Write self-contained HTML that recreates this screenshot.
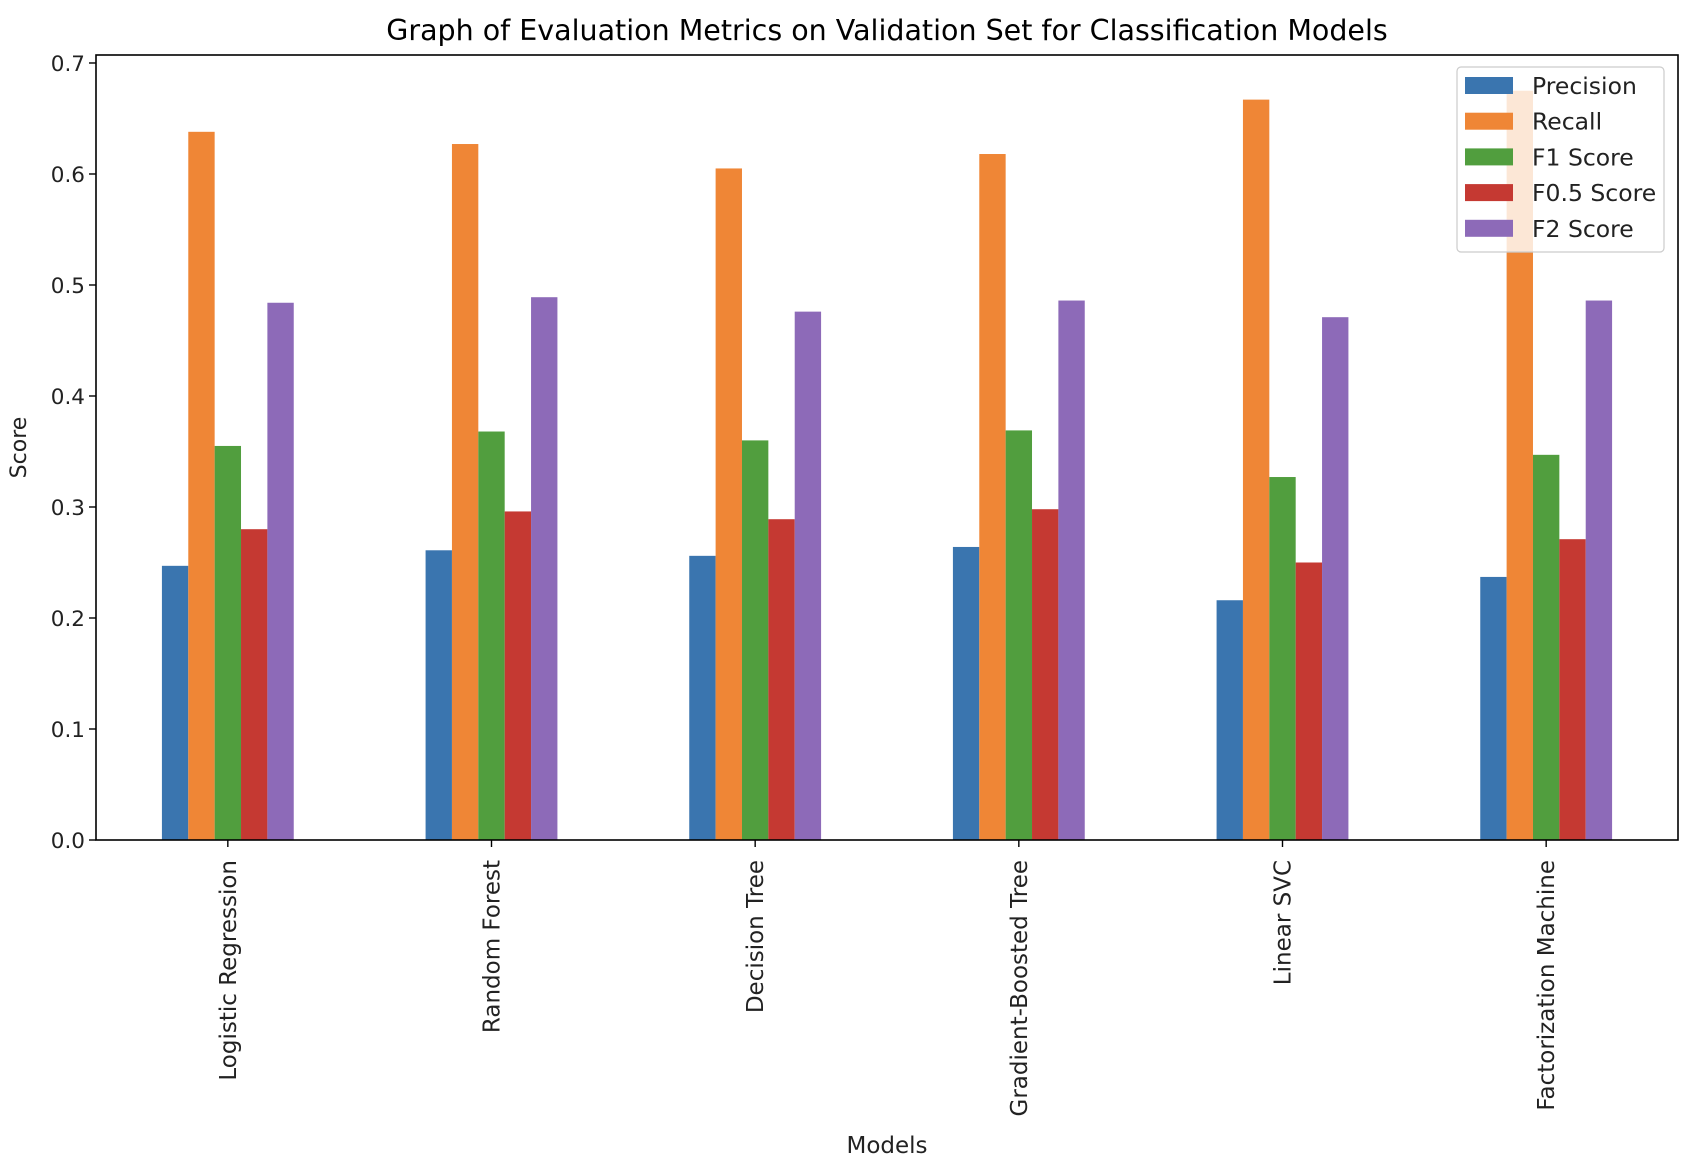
<!DOCTYPE html>
<html><head><meta charset="utf-8"><style>
html,body{margin:0;padding:0;background:#fff;}
svg{display:block;font-family:"DejaVu Sans","Liberation Sans",sans-serif;}
</style></head><body>
<svg id="chart" width="1696" height="1166" viewBox="0 0 1696 1166" xmlns="http://www.w3.org/2000/svg"></svg>
<script>
const categories = ["Logistic Regression","Random Forest","Decision Tree","Gradient-Boosted Tree","Linear SVC","Factorization Machine"];
const seriesNames = ["Precision","Recall","F1 Score","F0.5 Score","F2 Score"];
const precision = [0.247,0.261,0.256,0.264,0.216,0.237];
const recall = [0.638,0.627,0.605,0.618,0.667,0.675];
const f1 = [0.355,0.368,0.360,0.369,0.327,0.347];
const f05 = [0.280,0.296,0.289,0.298,0.250,0.271];
const f2 = [0.484,0.489,0.476,0.486,0.471,0.486];
const yTicks = [0.0,0.1,0.2,0.3,0.4,0.5,0.6,0.7];
const yTickLabels = ["0.0","0.1","0.2","0.3","0.4","0.5","0.6","0.7"];

const series = [precision,recall,f1,f05,f2];
const colors = ["#3a75af","#ef8636","#519e3e","#c53932","#8d6ab8"];
const NS="http://www.w3.org/2000/svg";
const svg=document.getElementById('chart');
const L=96,R=1678,T=55,B=840,yMax=0.7072;
const y=v=>B-(v/yMax)*(B-T);
const x=i=>L+(i+0.5)*(R-L)/categories.length;
const step=(R-L)/categories.length, bw=step*0.5/series.length;
function mk(tag,attrs,parent){const e=document.createElementNS(NS,tag);for(const k in attrs)e.setAttribute(k,attrs[k]);(parent||svg).appendChild(e);return e;}

const title=mk('text',{x:(L+R)/2,y:40,'text-anchor':'middle','font-size':'28.5','fill':'#000'});


title.textContent="Graph of Evaluation Metrics on Validation Set for Classification Models";

const bars=mk('g',{});


series.forEach((s,si)=>{
  s.forEach((v,ci)=>{
    const bx=x(ci)-step*0.25+si*bw;
    const r=mk('rect',{x:bx,y:y(v),width:bw,height:B-y(v),fill:colors[si]},bars);
    
    
  });
});

const axes=mk('g',{});


mk('rect',{x:L,y:T,width:R-L,height:B-T,fill:'none',stroke:'#000','stroke-width':'1.6'},axes);

yTicks.forEach((t,i)=>{
  mk('line',{x1:L-7,x2:L,y1:y(t),y2:y(t),stroke:'#000','stroke-width':'1.4'},axes);
  const tl=mk('text',{x:L-11,y:y(t)+8,'text-anchor':'end','font-size':'21.5',fill:'#222'},axes);
  
  
  tl.textContent=yTickLabels[i];
});
categories.forEach((c,i)=>{
  mk('line',{x1:x(i),x2:x(i),y1:B,y2:B+7,stroke:'#000','stroke-width':'1.4'},axes);
  const tl=mk('text',{x:0,y:0,'text-anchor':'end','font-size':'23',fill:'#222',transform:`translate(${x(i)+8},${B+20}) rotate(-90)`},axes);
  
  
  tl.textContent=c;
});
const yt=mk('text',{x:0,y:0,'text-anchor':'middle','font-size':'22',fill:'#222',transform:`translate(26,${(T+B)/2}) rotate(-90)`});


yt.textContent="Score";
const xt=mk('text',{x:(L+R)/2,y:1153,'text-anchor':'middle','font-size':'23',fill:'#222'});


xt.textContent="Models";

const lg=mk('g',{});


mk('rect',{x:1457,y:67,width:207,height:185,rx:4,fill:'#fff','fill-opacity':'0.8',stroke:'#ccc','stroke-width':'1.2'},lg);
seriesNames.forEach((n,i)=>{
  const cy=85+i*35.7;
  const e=mk('g',{},lg);
  
  
  mk('rect',{x:1465,y:cy-8,width:48,height:17,fill:colors[i]},e);
  const t=mk('text',{x:1532,y:cy+9,'font-size':'23.5',fill:'#222'},e);
  t.textContent=n;
});
</script>
</body></html>
